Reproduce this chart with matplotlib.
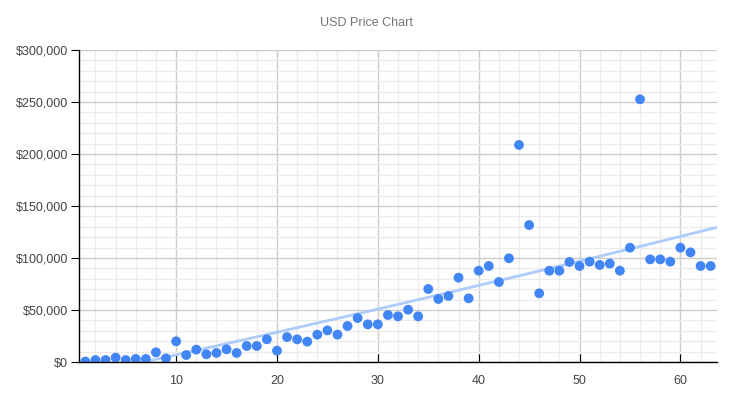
import numpy as np
import matplotlib
matplotlib.use("Agg")
import matplotlib.pyplot as plt
from matplotlib.ticker import MultipleLocator, FuncFormatter

plt.rcParams['font.family'] = ['Liberation Sans', 'DejaVu Sans']

# data (index, price in USD)
days = list(range(1, 64))
prices = [
    500, 1900, 1900, 4200, 1900, 2900, 2900, 9300, 3500, 19900,
    6700, 11900, 7400, 8700, 12200, 8700, 15400, 15400, 21800, 10900,
    24000, 21800, 19600, 26300, 30400, 26300, 34600, 42300, 36200, 36200,
    45200, 43900, 50300, 43900, 70200, 60600, 63500, 81100, 61200, 87800,
    92300, 76900, 99700, 208700, 131700, 66000, 87800, 87800, 96200, 92300,
    96500, 93300, 94600, 87800, 109900, 252600, 98700, 98700, 96500, 109900,
    105400, 92300, 92300,
]

x = np.array(days, dtype=float)
y = np.array(prices, dtype=float)

fig = plt.figure(figsize=(7.34, 3.98), dpi=100)
ax = fig.add_axes([79 / 734, 36 / 398, 638 / 734, 312 / 398])

# trendline
coef = np.polyfit(x, y, 2)
xs = np.linspace(0.37, 63.63, 200)
ax.plot(xs, np.polyval(coef, xs), color='#aecbfa', lw=2, zorder=2)

ax.scatter(x, y, s=50, color='#4285f4', edgecolors='none', zorder=3)

ax.set_xlim(0.37, 63.63)
ax.set_ylim(0, 300000)

ax.xaxis.set_major_locator(MultipleLocator(10))
ax.xaxis.set_minor_locator(MultipleLocator(2))
ax.yaxis.set_major_locator(MultipleLocator(50000))
ax.yaxis.set_minor_locator(MultipleLocator(10000))
ax.yaxis.set_major_formatter(FuncFormatter(lambda v, p: f"${v:,.0f}"))

ax.grid(which='minor', color='#ebebeb', lw=1, zorder=0)
ax.grid(which='major', color='#cccccc', lw=1, zorder=1)
ax.set_axisbelow(True)

for s in ['top', 'right']:
    ax.spines[s].set_visible(False)
for s in ['left', 'bottom']:
    ax.spines[s].set_color('black')
    ax.spines[s].set_linewidth(1)
    ax.spines[s].set_zorder(4)

ax.tick_params(axis='x', which='major', direction='in', length=6, color='black',
               labelsize=9, labelcolor='#444444', pad=9)
ax.tick_params(axis='y', which='major', direction='out', length=6, color='black',
               labelsize=9, labelcolor='#444444', pad=2)
ax.tick_params(which='minor', length=0)

fig.text(367 / 734, 1 - 23 / 398, "USD Price Chart", ha='center', va='center',
         fontsize=9, color='#757575')

fig.savefig("out.png", dpi=100)
